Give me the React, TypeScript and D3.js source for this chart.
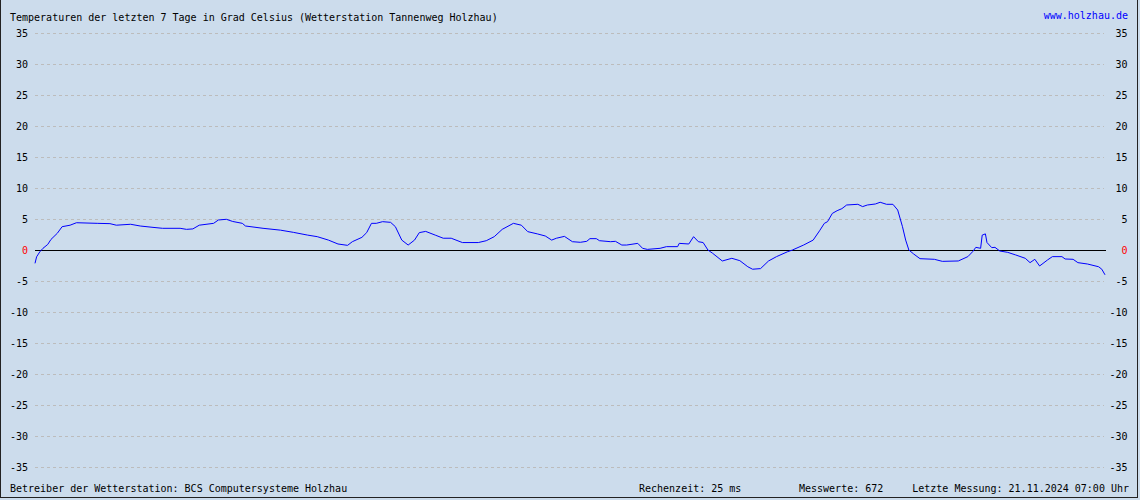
import React from "react";
import * as d3 from "d3";

const W = 1140;
const H = 500;

const titleText = "Temperaturen der letzten 7 Tage in Grad Celsius (Wetterstation Tannenweg Holzhau)";
const urlText = "www.holzhau.de";
const footerOperator = "Betreiber der Wetterstation: BCS Computersysteme Holzhau";
const footerTime = "Rechenzeit: 25 ms";
const footerCount = "Messwerte: 672";
const footerLast = "Letzte Messung: 21.11.2024 07:00 Uhr";

const yTicks = [35, 30, 25, 20, 15, 10, 5, 0, -5, -10, -15, -20, -25, -30, -35];
const measurementCount = 672;

// measurement index (0..671, every 15 minutes)
const sampleIndex = [
  0, 1, 3, 5, 8, 10, 14, 17, 22, 26, 39, 47, 51, 60, 66, 74, 80, 91, 95, 99,
  103, 112, 115, 120, 124, 130, 132, 143, 154, 162, 171, 177, 184, 190, 196, 199, 205, 208, 211, 214,
  218, 223, 226, 230, 234, 238, 241, 245, 251, 256, 261, 268, 278, 283, 288, 293, 300, 305, 309, 315,
  320, 324, 327, 332, 337, 342, 346, 348, 352, 354, 361, 364, 368, 371, 378, 381, 384, 392, 396, 403,
  404, 410, 413, 416, 419, 422, 425, 431, 437, 442, 447, 450, 455, 460, 465, 472, 475, 482, 488, 492,
  495, 497, 500, 503, 506, 509, 516, 519, 522, 527, 530, 534, 538, 541, 544, 546, 548, 551, 555, 564,
  569, 579, 585, 588, 590, 593, 594, 596, 597, 600, 602, 605, 610, 615, 621, 624, 627, 630, 635, 638,
  644, 646, 651, 654, 660, 667, 669, 671,
];

// temperature in °C
const temperature = [
  -2.15, -1.1, -0.3, 0.27, 0.9, 1.7, 2.7, 3.76, 4.0, 4.4, 4.3, 4.25, 4.0, 4.15, 3.87, 3.65, 3.5, 3.5, 3.33, 3.4,
  4.0, 4.3, 4.84, 4.95, 4.6, 4.3, 3.87, 3.5, 3.2, 2.85, 2.4, 2.15, 1.6, 0.97, 0.75, 1.34, 2.04, 2.8, 4.3, 4.3,
  4.57, 4.46, 3.76, 1.6, 0.8, 1.6, 2.8, 3.0, 2.4, 1.9, 1.9, 1.2, 1.2, 1.5, 2.15, 3.33, 4.3, 4.0, 2.96, 2.6,
  2.26, 1.6, 1.9, 2.2, 1.34, 1.24, 1.4, 1.83, 1.83, 1.5, 1.34, 1.4, 0.8, 0.8, 1.07, 0.27, 0.1, 0.27, 0.54, 0.54,
  1.07, 0.97, 2.15, 1.34, 1.2, 0.0, -0.54, -1.77, -1.34, -1.72, -2.7, -3.1, -3.0, -1.77, -1.07, -0.27, 0.0, 0.8, 1.6, 3.1,
  4.3, 4.57, 5.9, 6.34, 6.67, 7.26, 7.37, 7.0, 7.26, 7.42, 7.7, 7.37, 7.37, 6.45, 3.76, 1.6, 0.0, -0.64, -1.4, -1.5,
  -1.83, -1.77, -1.07, -0.27, 0.43, 0.27, 2.4, 2.6, 1.2, 0.38, 0.43, -0.16, -0.38, -0.8, -1.34, -2.04, -1.5, -2.58, -1.6, -1.07,
  -1.07, -1.45, -1.5, -2.04, -2.26, -2.7, -3.1, -4.0,
];

const FONT = "'DejaVu Sans Mono', 'Liberation Mono', monospace";

export default function App() {
  const x = d3.scaleLinear().domain([0, measurementCount - 1]).range([35, 1105]);
  const y = d3.scaleLinear().domain([-35, 35]).range([467, 33]);

  const pts: [number, number][] = sampleIndex.map((i, k) => [i, temperature[k]]);
  const line = d3
    .line<[number, number]>()
    .x((d) => x(d[0]))
    .y((d) => y(d[1]))
    .curve(d3.curveLinear);

  return (
    <svg
      width={W}
      height={H}
      style={{ position: "absolute", left: 0, top: 0, display: "block" }}
      fontFamily={FONT}
    >
      <rect x={0} y={0} width={W} height={H} fill="#ccdcec" />
      {/* border */}
      <line x1={0.5} y1={0} x2={0.5} y2={498} stroke="#222" strokeWidth={1} shapeRendering="crispEdges" />
      <line x1={1137.5} y1={0} x2={1137.5} y2={498} stroke="#222" strokeWidth={1} shapeRendering="crispEdges" />
      <line x1={0} y1={497.5} x2={1138} y2={497.5} stroke="#222" strokeWidth={1} shapeRendering="crispEdges" />

      {/* grid */}
      {yTicks
        .filter((t) => t !== 0)
        .map((t) => (
          <line
            key={"g" + t}
            x1={35}
            x2={1104}
            y1={Math.round(y(t)) + 0.5}
            y2={Math.round(y(t)) + 0.5}
            stroke="#bcbcbc"
            strokeDasharray="3,3"
            shapeRendering="crispEdges"
          />
        ))}
      <line
        x1={35}
        x2={1106}
        y1={Math.round(y(0)) + 0.5}
        y2={Math.round(y(0)) + 0.5}
        stroke="#000"
        strokeWidth={1.3}
        shapeRendering="crispEdges"
      />

      {/* tick labels */}
      {yTicks.map((t) => (
        <g key={"l" + t} fontSize={10} fill={t === 0 ? "#ff0000" : "#000"}>
          <text x={28} y={y(t) + 3.5} textAnchor="end">
            {t}
          </text>
          <text x={1127.5} y={y(t) + 3.5} textAnchor="end">
            {t}
          </text>
        </g>
      ))}

      {/* data */}
      <path d={line(pts) || ""} fill="none" stroke="#0000ff" strokeWidth={1} />

      {/* texts */}
      <text x={10} y={20.5} fontSize={10} fill="#000">
        {titleText}
      </text>
      <text x={1128} y={18.5} fontSize={10} fill="#0000ff" textAnchor="end">
        {urlText}
      </text>
      <text x={10} y={491.5} fontSize={10} fill="#000">
        {footerOperator}
      </text>
      <text x={639} y={491.5} fontSize={10} fill="#000">
        {footerTime}
      </text>
      <text x={799} y={491.5} fontSize={10} fill="#000">
        {footerCount}
      </text>
      <text x={1129} y={491.5} fontSize={10} fill="#000" textAnchor="end">
        {footerLast}
      </text>
    </svg>
  );
}
